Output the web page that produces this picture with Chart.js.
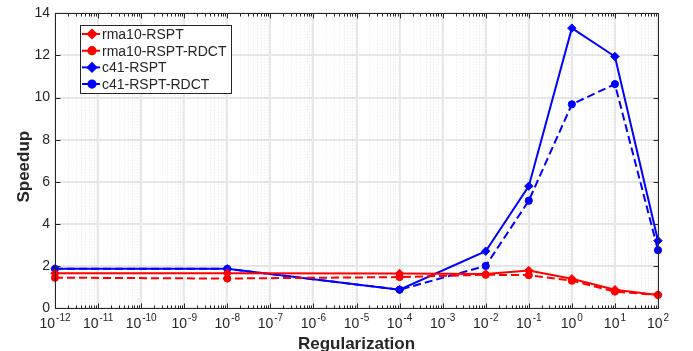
<!DOCTYPE html>
<html>
<head>
<meta charset="utf-8">
<script src="https://cdn.jsdelivr.net/npm/chart.js@4.4.1/dist/chart.umd.min.js"></script>
<style>
  html, body { margin: 0; padding: 0; background: #fff; }
  #wrap { width: 693px; height: 351px; }
</style>
</head>
<body>
<div id="wrap"><canvas id="speedupChart"></canvas></div>
<script>
// Data
const regularization = [1e-12, 1e-8, 1e-4, 1e-2, 1e-1, 1e0, 1e1, 1e2];
const rma10Rspt = [1.65, 1.65, 1.64, 1.61, 1.78, 1.39, 0.87, 0.62];
const rma10RsptRdct = [1.44, 1.40, 1.47, 1.58, 1.56, 1.30, 0.78, 0.62];
const c41Rspt = [1.86, 1.86, 0.87, 2.70, 5.79, 13.3, 11.95, 3.20];
const c41RsptRdct = [1.86, 1.86, 0.87, 2.00, 5.10, 9.68, 10.64, 2.75];
const seriesLabels = ['rma10-RSPT', 'rma10-RSPT-RDCT', 'c41-RSPT', 'c41-RSPT-RDCT'];
const xExponents = [-12, -11, -10, -9, -8, -7, -6, -5, -4, -3, -2, -1, 0, 1, 2];
const yTicks = [0, 2, 4, 6, 8, 10, 12, 14];

const AXIS = '#262626';
const FONT = '"Liberation Sans", Arial, Helvetica, sans-serif';

function toPoints(values) {
    return values.map((v, i) => ({ x: regularization[i], y: v }));
}

function makeSet(label, values, color, style, dashed) {
    return {
        label: label,
        data: toPoints(values),
        borderColor: color,
        backgroundColor: color,
        borderWidth: 2,
        borderDash: dashed ? [8, 4] : [],
        pointStyle: style,
        pointRadius: style === 'rectRot' ? 4.2 : 3.6,
        pointBorderWidth: 1,
        tension: 0,
        clip: false
    };
}

const datasets = [
    makeSet(seriesLabels[0], rma10Rspt, '#ff0000', 'rectRot', false),
    makeSet(seriesLabels[1], rma10RsptRdct, '#ff0000', 'circle', true),
    makeSet(seriesLabels[2], c41Rspt, '#0000ff', 'rectRot', false),
    makeSet(seriesLabels[3], c41RsptRdct, '#0000ff', 'circle', true)
];

// dotted minor grid for the log axis
const minorGrid = {
    id: 'minorGrid',
    beforeDatasetsDraw(chart) {
        const { ctx, chartArea: a, scales: { x } } = chart;
        ctx.save();
        ctx.strokeStyle = 'rgba(0,0,0,0.09)';
        ctx.lineWidth = 1;
        ctx.setLineDash([1, 2]);
        for (let e = -12; e < 2; e++) {
            for (let m = 2; m <= 9; m++) {
                const px = Math.round(x.getPixelForValue(m * Math.pow(10, e))) + 0.5;
                ctx.beginPath();
                ctx.moveTo(px, a.top);
                ctx.lineTo(px, a.bottom);
                ctx.stroke();
            }
        }
        ctx.restore();
    }
};

// box, inward ticks, x labels with exponents, axis titles, legend
const frame = {
    id: 'frame',
    afterDatasetsDraw(chart) {
        const { ctx, chartArea: a, scales: { x, y } } = chart;
        ctx.save();
        ctx.strokeStyle = AXIS;
        ctx.lineWidth = 1;
        ctx.setLineDash([]);
        const L = Math.round(a.left) + 0.5, R = Math.round(a.right) + 0.5;
        const T = Math.round(a.top) + 0.5, B = Math.round(a.bottom) + 0.5;
        ctx.strokeRect(L, T, R - L, B - T);

        ctx.beginPath();
        for (let e = -12; e <= 2; e++) {
            const px = Math.round(x.getPixelForValue(Math.pow(10, e))) + 0.5;
            ctx.moveTo(px, B); ctx.lineTo(px, B - 5);
            ctx.moveTo(px, T); ctx.lineTo(px, T + 5);
            if (e === 2) continue;
            for (let m = 2; m <= 9; m++) {
                const mx = Math.round(x.getPixelForValue(m * Math.pow(10, e))) + 0.5;
                ctx.moveTo(mx, B); ctx.lineTo(mx, B - 3);
                ctx.moveTo(mx, T); ctx.lineTo(mx, T + 3);
            }
        }
        yTicks.forEach(v => {
            const py = Math.round(y.getPixelForValue(v)) + 0.5;
            ctx.moveTo(L, py); ctx.lineTo(L + 5, py);
            ctx.moveTo(R, py); ctx.lineTo(R - 5, py);
        });
        ctx.stroke();

        // x tick labels 10^n
        ctx.fillStyle = AXIS;
        ctx.textBaseline = 'alphabetic';
        ctx.textAlign = 'left';
        xExponents.forEach(e => {
            const px = x.getPixelForValue(Math.pow(10, e));
            ctx.font = '14px ' + FONT;
            const baseW = ctx.measureText('10').width;
            ctx.font = '10px ' + FONT;
            const expText = String(e);
            const expW = ctx.measureText(expText).width;
            const start = px - (baseW + 1 + expW) / 2;
            ctx.font = '14px ' + FONT;
            ctx.fillText('10', start, 328);
            ctx.font = '10px ' + FONT;
            ctx.fillText(expText, start + baseW + 1, 321);
        });

        // axis titles
        ctx.font = 'bold 17px ' + FONT;
        ctx.textAlign = 'center';
        ctx.fillText('Regularization', (a.left + a.right) / 2, 349);
        ctx.save();
        ctx.translate(29, (a.top + a.bottom) / 2 + 6);
        ctx.rotate(-Math.PI / 2);
        ctx.textBaseline = 'alphabetic';
        ctx.fillText('Speedup', 0, 0);
        ctx.restore();

        // legend
        const lx = 80.5, ly = 25.5, lw = 151, lh = 68;
        ctx.fillStyle = '#fff';
        ctx.fillRect(lx, ly, lw, lh);
        ctx.strokeStyle = AXIS;
        ctx.lineWidth = 1;
        ctx.strokeRect(lx, ly, lw, lh);
        ctx.font = '14px ' + FONT;
        ctx.textAlign = 'left';
        ctx.textBaseline = 'middle';
        chart.data.datasets.forEach((ds, i) => {
            const cy = 34 + i * 16.7;
            ctx.strokeStyle = ds.borderColor;
            ctx.lineWidth = 2;
            ctx.setLineDash(ds.borderDash);
            ctx.beginPath();
            ctx.moveTo(82, cy);
            ctx.lineTo(100, cy);
            ctx.stroke();
            ctx.setLineDash([]);
            ctx.fillStyle = ds.backgroundColor;
            Chart.helpers.drawPoint(ctx, {
                pointStyle: ds.pointStyle,
                radius: ds.pointRadius,
                borderWidth: 1
            }, 92, cy);
            ctx.fill();
            ctx.fillStyle = AXIS;
            ctx.fillText(ds.label, 102, cy + 1);
        });
        ctx.restore();
    }
};

new Chart(document.getElementById('speedupChart'), {
    type: 'line',
    data: { datasets: datasets },
    options: {
        responsive: true,
        maintainAspectRatio: false,
        animation: false,
        layout: { padding: { top: 9, right: 35, left: 0, bottom: 0 } },
        plugins: {
            legend: { display: false },
            tooltip: { enabled: false }
        },
        scales: {
            x: {
                type: 'logarithmic',
                min: 1e-12,
                max: 1e2,
                afterBuildTicks(scale) {
                    scale.ticks = xExponents.map(e => ({ value: Math.pow(10, e) }));
                },
                afterFit(scale) { scale.height = 43; },
                ticks: { display: false },
                grid: { color: '#e8e8e8', lineWidth: 2, drawTicks: false },
                border: { display: false }
            },
            y: {
                min: 0,
                max: 14,
                afterBuildTicks(scale) {
                    scale.ticks = yTicks.map(v => ({ value: v }));
                },
                afterFit(scale) { scale.width = 55; },
                ticks: {
                    padding: 5,
                    color: AXIS,
                    font: { family: FONT, size: 14 }
                },
                grid: { color: '#e8e8e8', lineWidth: 2, drawTicks: false },
                border: { display: false }
            }
        }
    },
    plugins: [minorGrid, frame]
});
</script>
</body>
</html>
